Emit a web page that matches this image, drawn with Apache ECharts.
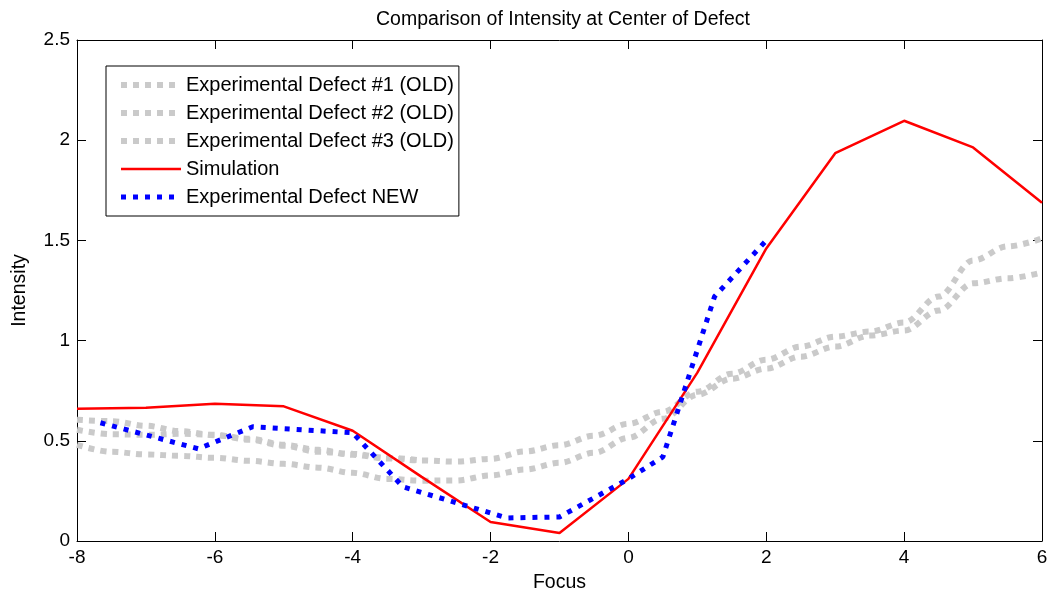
<!DOCTYPE html>
<html>
<head>
<meta charset="utf-8">
<title>Comparison of Intensity at Center of Defect</title>
<script src="https://cdn.jsdelivr.net/npm/echarts@6/dist/echarts.min.js"></script>
<style>
  html, body { margin: 0; padding: 0; background: #fff; }
  #chart { width: 1048px; height: 592px; }
</style>
</head>
<body>
<div id="chart"></div>
<script>
// simulation (solid red)
const simFocus = [-8, -7, -6, -5, -4, -3, -2, -1, 0, 1, 2, 3, 4, 5, 6];
const simValues = [0.66, 0.665, 0.685, 0.672, 0.55, 0.32, 0.095, 0.04, 0.31, 0.84, 1.46, 1.935, 2.097, 1.964, 1.688];

// new measurement (blue dotted)
const newFocus = [-7.66, -6.24, -5.45, -4.0, -3.27, -1.76, -1.0, 0, 0.5, 1.25, 2.0];
const newValues = [0.59, 0.46, 0.57, 0.54, 0.27, 0.115, 0.12, 0.31, 0.42, 1.22, 1.5];

// old measurements (gray dotted)
const oldFocus = [-8, -7.5, -7, -6.5, -6, -5.5, -5, -4.5, -4, -3.5, -3, -2.5, -2, -1.5, -1, -0.5,
  0, 0.5, 1, 1.5, 2, 2.5, 3, 3.5, 4, 4.5, 5, 5.5, 6];
const old1 = [0.605, 0.598, 0.575, 0.548, 0.528, 0.51, 0.48, 0.455, 0.43, 0.412, 0.402, 0.396, 0.41, 0.447, 0.478, 0.525,
  0.585, 0.645, 0.745, 0.835, 0.905, 0.97, 1.02, 1.045, 1.09, 1.22, 1.4, 1.47, 1.51];
const old2Focus = [-8, -7.5, -7, -6.5, -6, -5.5, -5, -4.5, -4, -3.5, -3];
const old2 = [0.555, 0.533, 0.53, 0.535, 0.53, 0.505, 0.475, 0.445, 0.435, 0.415, 0.402];
const old3 = [0.48, 0.445, 0.432, 0.425, 0.415, 0.4, 0.385, 0.366, 0.34, 0.31, 0.301, 0.302, 0.327, 0.357, 0.39, 0.44,
  0.515, 0.61, 0.73, 0.81, 0.86, 0.92, 0.97, 1.025, 1.05, 1.15, 1.286, 1.311, 1.34];

const legendNames = ['Experimental Defect #1 (OLD)', 'Experimental Defect #2 (OLD)', 'Experimental Defect #3 (OLD)',
  'Simulation', 'Experimental Defect NEW'];

const pairs = (xs, ys) => xs.map((x, i) => [x, ys[i]]);

const font = "'Liberation Sans', Arial, sans-serif";
const gray = '#cacaca';
const grayLine = { color: gray, width: 6, type: [6, 6], cap: 'butt' };
const redLine = { color: '#ff0000', width: 2.5, type: 'solid' };
const blueLine = { color: '#0000ff', width: 5, type: [5, 7], cap: 'butt' };

const chart = echarts.init(document.getElementById('chart'));

const axisCommon = {
  axisLine: { show: true, onZero: false, lineStyle: { color: '#000', width: 1 } },
  axisTick: { show: true, inside: true, length: 9, lineStyle: { color: '#000' } },
  splitLine: { show: false }
};

const graySeries = (name, data) => ({
  name,
  type: 'line',
  data,
  smooth: 0.35,
  smoothMonotone: 'x',
  symbol: 'none',
  lineStyle: grayLine,
  itemStyle: { color: gray },
  z: 1
});

chart.setOption({
  animation: false,
  backgroundColor: '#fff',
  title: {
    text: 'Comparison of Intensity at Center of Defect',
    left: 558,
    top: 5,
    textAlign: 'center',
    textStyle: { fontFamily: font, fontSize: 19.5, fontWeight: 'normal', color: '#000' }
  },
  legend: {
    orient: 'vertical',
    left: 106,
    top: 66,
    padding: [9, 5, 9, 12],
    itemWidth: 60,
    itemHeight: 18,
    itemGap: 8,
    backgroundColor: '#fff',
    borderColor: '#000',
    borderWidth: 1,
    borderRadius: 0,
    selectedMode: false,
    itemStyle: { opacity: 0 },
    textStyle: { fontFamily: font, fontSize: 20, lineHeight: 18, color: '#000' },
    data: [
      { name: legendNames[0], lineStyle: grayLine },
      { name: legendNames[1], lineStyle: grayLine },
      { name: legendNames[2], lineStyle: grayLine },
      { name: legendNames[3], lineStyle: redLine },
      { name: legendNames[4], lineStyle: blueLine }
    ]
  },
  grid: { left: 77, right: 6, top: 40, bottom: 51, containLabel: false, outerBoundsMode: 'none' },
  xAxis: [
    Object.assign({
      type: 'value', min: -8, max: 6, interval: 2,
      name: 'Focus', nameLocation: 'middle', nameGap: 32,
      nameTextStyle: { fontFamily: font, fontSize: 19.5, color: '#000' },
      axisLabel: { fontFamily: font, fontSize: 19, color: '#000', margin: 7 }
    }, axisCommon),
    Object.assign({
      type: 'value', min: -8, max: 6, interval: 2, position: 'top',
      axisLabel: { show: false }
    }, axisCommon)
  ],
  yAxis: [
    Object.assign({
      type: 'value', min: 0, max: 2.5, interval: 0.5,
      name: 'Intensity', nameLocation: 'middle', nameGap: 47,
      nameTextStyle: { fontFamily: font, fontSize: 19.5, color: '#000' },
      axisLabel: { fontFamily: font, fontSize: 19, color: '#000', margin: 7 }
    }, axisCommon),
    Object.assign({
      type: 'value', min: 0, max: 2.5, interval: 0.5, position: 'right',
      axisLabel: { show: false }
    }, axisCommon)
  ],
  series: [
    graySeries(legendNames[0], pairs(oldFocus, old1)),
    graySeries(legendNames[1], pairs(old2Focus, old2)),
    graySeries(legendNames[2], pairs(oldFocus, old3)),
    {
      name: legendNames[3],
      type: 'line',
      data: pairs(simFocus, simValues),
      symbol: 'none',
      lineStyle: redLine,
      itemStyle: { color: '#ff0000' },
      z: 3
    },
    {
      name: legendNames[4],
      type: 'line',
      data: pairs(newFocus, newValues),
      symbol: 'none',
      lineStyle: blueLine,
      itemStyle: { color: '#0000ff' },
      z: 4
    }
  ]
});
</script>
</body>
</html>
